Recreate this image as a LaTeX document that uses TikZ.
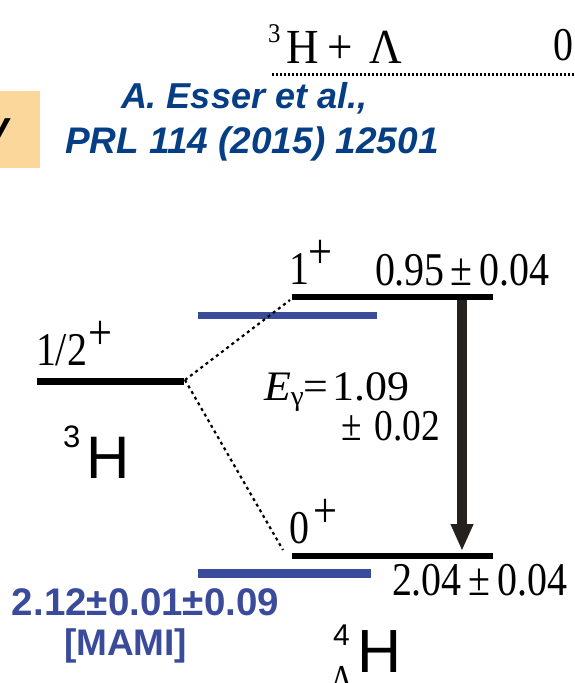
\documentclass[tikz,border=0pt]{standalone}
\usepackage{fontspec}
\setmainfont[FakeStretch=0.85]{Liberation Serif}
\newfontfamily\tnr[FakeStretch=0.92]{Liberation Serif}
\newfontfamily\arialf{Liberation Sans}
\usetikzlibrary{arrows.meta}
\definecolor{levblue}{RGB}{59,75,156}
\definecolor{citeblue}{RGB}{6,62,133}
\definecolor{boxorange}{RGB}{252,215,155}
\definecolor{arrowdark}{RGB}{38,33,30}
\newcommand{\fsz}[1]{\fontsize{#1}{#1}\selectfont}
\newcommand{\supplus}{\raisebox{15.5pt}{\fsz{50}+}}
\begin{document}
\begin{tikzpicture}[x=1pt,y=-1pt,
  txt/.style={inner sep=0pt, outer sep=0pt, anchor=base west},
  blacklev/.style={line width=6pt, black},
  bluelev/.style={line width=7.5pt, levblue},
  dotconn/.style={line width=2.2pt, dash pattern=on 3pt off 3.5pt},
  thresh/.style={line width=3pt, dash pattern=on 2.2pt off 1.8pt},
  gamma/.style={line width=10pt, arrowdark, -{Triangle[width=21pt,length=27pt]}}]
\useasboundingbox (0,0) rectangle (574,683);
\fill[white] (0,0) rectangle (574,683);

% orange box with cut text
\fill[boxorange] (0,91) rectangle (40,168);
\node[txt] (vfrag) at (-17,145) {\arialf\bfseries\itshape\fsz{39}V};

% threshold
\coordinate (thL) at (272,74);
\coordinate (thR) at (576,74);
\draw[thresh] (thL) -- (thR);
\node[txt] (thlab) at (268,63) {\tnr\fsz{49}\raisebox{21pt}{\fsz{27}3}\hspace{6pt}H\hspace{9pt}+\hspace{16pt}Λ};
\node[txt] (zero) at (553,60) {\fsz{47}0};

% citation
\node[txt, text=citeblue] (cite1) at (121,108) {\arialf\bfseries\itshape\fsz{36}A. Esser et al.,};
\node[txt, text=citeblue] (cite2) at (65,153) {\arialf\bfseries\itshape\fsz{37}PRL 114 (2015) 12501};

% 3H level
\coordinate (hL) at (37,381);
\coordinate (hR) at (184,381);
\draw[blacklev, line width=7pt] (hL) -- (hR);
\node[txt] (hspin) at (36,365) {\fsz{47}1/2\hspace{1pt}\supplus};
\node[txt] (hname) at (63,478) {\arialf\fsz{60}\raisebox{31pt}{\fsz{31}3}\hspace{6pt}H};

% hypernucleus levels
\coordinate (exL) at (292,297);
\coordinate (exR) at (493,297);
\coordinate (gsL) at (292,556);
\coordinate (gsR) at (493,556);
\draw[blacklev] (exL) -- (exR);
\draw[blacklev] (gsL) -- (gsR);
\node[txt] (exspin) at (289,284) {\fsz{47}1\hspace{0pt}\supplus};
\node[txt] (exen) at (375,285) {\fsz{47}0.95\hspace{6pt}±\hspace{7pt}0.04};
\node[txt] (gsspin) at (289,543) {\fsz{47}0\hspace{5pt}\supplus};
\node[txt] (gsen) at (392,595) {\fsz{47}2.04\hspace{7pt}±\hspace{7pt}0.04};

% MAMI levels
\coordinate (mexL) at (198,315.5);
\coordinate (mexR) at (377,315.5);
\coordinate (mgsL) at (198,573.5);
\coordinate (mgsR) at (371,573.5);
\draw[bluelev] (mexL) -- (mexR);
\draw[bluelev, line width=8.5pt] (mgsL) -- (mgsR);
\node[txt, text=levblue] (mami1) at (12,615) {\arialf\bfseries\fsz{38.5}2.12±0.01±0.09};
\node[txt, text=levblue] (mami2) at (64,655) {\arialf\bfseries\fsz{37}[MAMI]};

% dotted correlations
\coordinate (dA) at (185,380);
\coordinate (dB) at (290,300);
\coordinate (dC) at (283,550);
\draw[dotconn] (dA) -- (dB);
\draw[dotconn] (dA) -- (dC);

% gamma transition
\coordinate (gTop) at (462,300);
\coordinate (gBot) at (462,551);
\draw[gamma] (gTop) -- (gBot);
\node[txt] (egam) at (264,400) {\scalebox{1.23}[1]{\fsz{42}\itshape E\upshape\raisebox{-5pt}{\fsz{28}γ}=\hspace{3pt}1.09}};
\node[txt] (egerr) at (341,440) {\fsz{44}±\hspace{13pt}0.02};

% 4LH label
\node[txt] (hyp4) at (333,645) {\arialf\fsz{30}4};
\node[txt] (hypLam) at (330,691) {\fsz{38}Λ};
\node[txt] (hypH) at (357,672) {\arialf\fsz{61}H};
\end{tikzpicture}
\end{document}
